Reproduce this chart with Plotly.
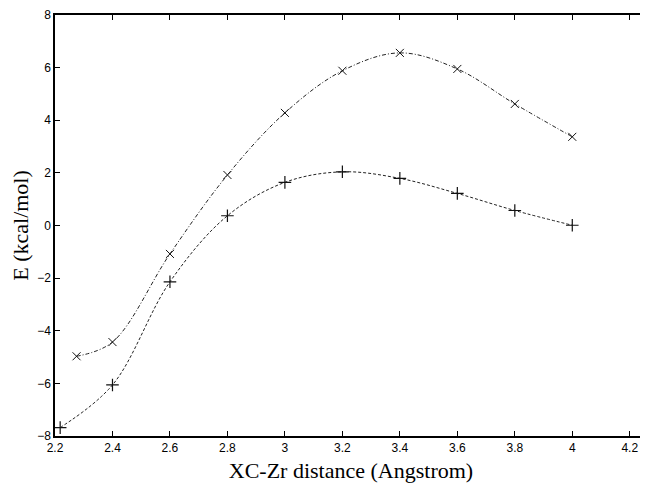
import plotly.graph_objects as go

x_upper = [2.275, 2.4, 2.6, 2.8, 3.0, 3.2, 3.4, 3.6, 3.8, 4.0]
e_upper = [-4.97, -4.43, -1.08, 1.92, 4.28, 5.88, 6.56, 5.95, 4.62, 3.37]
x_lower = [2.218, 2.4, 2.6, 2.8, 3.0, 3.2, 3.4, 3.6, 3.8, 4.0]
e_lower = [-7.68, -6.06, -2.14, 0.37, 1.64, 2.04, 1.79, 1.22, 0.57, 0.01]
x_ticks = [2.2, 2.4, 2.6, 2.8, 3.0, 3.2, 3.4, 3.6, 3.8, 4.0, 4.2]
x_tick_text = ["2.2", "2.4", "2.6", "2.8", "3", "3.2", "3.4", "3.6", "3.8", "4", "4.2"]
y_ticks = [-8, -6, -4, -2, 0, 2, 4, 6, 8]

fig = go.Figure()
fig.add_trace(go.Scatter(
    x=x_upper, y=e_upper, mode="lines+markers",
    line=dict(shape="spline", smoothing=1.0, color="#222", width=1, dash="4px,2px,1px,2px"),
    marker=dict(symbol="x-thin", size=8, line=dict(color="#111", width=1)),
    showlegend=False,
))
fig.add_trace(go.Scatter(
    x=x_lower, y=e_lower, mode="lines+markers",
    line=dict(shape="spline", smoothing=1.0, color="#222", width=1, dash="3px,2px"),
    marker=dict(symbol="cross-thin", size=9, line=dict(color="#111", width=1.2)),
    showlegend=False,
))

axis_common = dict(
    showgrid=False, zeroline=False, showline=True, linecolor="black", linewidth=1.5,
    mirror="allticks", ticks="inside", ticklen=5, tickwidth=1.2, tickcolor="black",
    tickfont=dict(family="Liberation Sans", size=12, color="black"), automargin=False,
)
fig.update_xaxes(range=[2.2, 4.26], tickvals=x_ticks, ticktext=x_tick_text,
                 title=dict(text="XC-Zr distance (Angstrom)", font=dict(family="Liberation Serif", size=22, color="black"), standoff=8),
                 **axis_common)
fig.update_yaxes(range=[-8, 8], tickvals=y_ticks,
                 title=dict(text="E (kcal/mol)", font=dict(family="Liberation Serif", size=22, color="black"), standoff=4),
                 **axis_common)
fig.update_layout(
    width=640, height=480,
    margin=dict(l=47, r=1, t=7, b=52),
    plot_bgcolor="white", paper_bgcolor="white",
)
fig.write_html("out.html")
